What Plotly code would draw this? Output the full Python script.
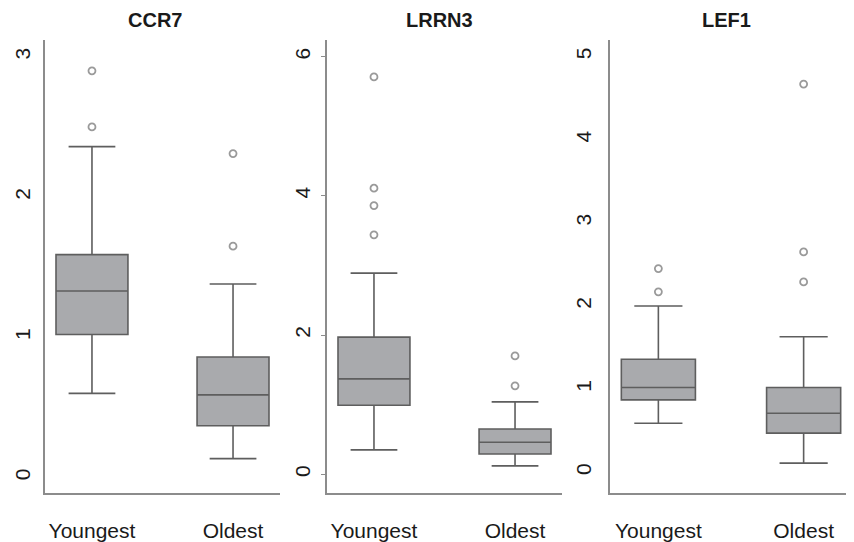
import plotly.graph_objects as go

genes = ["CCR7", "LRRN3", "LEF1"]
groups = ["Youngest", "Oldest"]

# Box statistics per gene: [Youngest, Oldest]
q1 = {"CCR7": [1.02, 0.37], "LRRN3": [0.99, 0.29], "LEF1": [0.87, 0.47]}
median = {"CCR7": [1.33, 0.59], "LRRN3": [1.37, 0.46], "LEF1": [1.02, 0.71]}
q3 = {"CCR7": [1.59, 0.86], "LRRN3": [1.97, 0.65], "LEF1": [1.36, 1.02]}
lowerfence = {"CCR7": [0.60, 0.135], "LRRN3": [0.35, 0.12], "LEF1": [0.59, 0.11]}
upperfence = {"CCR7": [2.36, 1.38], "LRRN3": [2.89, 1.04], "LEF1": [2.00, 1.63]}

# Outliers per gene and group
outliers = {
    "CCR7": {"Youngest": [2.9, 2.5], "Oldest": [1.65, 2.31]},
    "LRRN3": {"Youngest": [5.71, 4.11, 3.86, 3.44], "Oldest": [1.27, 1.70]},
    "LEF1": {"Youngest": [2.17, 2.45], "Oldest": [2.29, 2.65, 4.67]},
}

y_ranges = {"CCR7": [-0.11, 3.12], "LRRN3": [-0.27, 6.24], "LEF1": [-0.25, 5.2]}
y_ticks = {"CCR7": [0, 1, 2, 3], "LRRN3": [0, 2, 4, 6], "LEF1": [0, 1, 2, 3, 4, 5]}

# page has an 8px body margin; size the figure to fill the rest of the window
OFF = 8
W, H = 854 - OFF, 542 - OFF


def px_x(p):
    return (p - OFF) / W


def px_y(p):
    return 1 - (p - OFF) / H


x_domains = [[px_x(45), px_x(280)], [px_x(327), px_x(562)], [px_x(610), px_x(852)]]
y_domain = [px_y(493), px_y(40)]
title_x = [155, 440, 726]
tick_len = [0, 4, 0]
y_standoff = [5, 3, 9]

BOX_FILL = "#a9aaad"
BOX_LINE = "#5e5e5e"
AXIS_COL = "#8c8c8c"
FONT = "Liberation Sans, Arial, sans-serif"

fig = go.Figure()
layout = {}
annotations = []

for i, g in enumerate(genes):
    n = "" if i == 0 else str(i + 1)
    xa, ya = "x" + n, "y" + n
    fig.add_trace(go.Box(
        x=groups, q1=q1[g], median=median[g], q3=q3[g],
        lowerfence=lowerfence[g], upperfence=upperfence[g],
        fillcolor=BOX_FILL, line=dict(color=BOX_LINE, width=1.6),
        whiskerwidth=0.65, width=0.51, boxpoints=False,
        xaxis=xa, yaxis=ya, showlegend=False, hoverinfo="skip",
    ))
    ox, oy = [], []
    for grp in groups:
        for v in outliers[g][grp]:
            ox.append(grp)
            oy.append(v)
    fig.add_trace(go.Scatter(
        x=ox, y=oy, mode="markers",
        marker=dict(symbol="circle-open", size=7, color="#9a9a9a",
                    line=dict(width=1.8, color="#9a9a9a")),
        xaxis=xa, yaxis=ya, showlegend=False, hoverinfo="skip",
    ))
    layout["xaxis" + n] = dict(
        domain=x_domains[i], anchor=ya, type="category",
        categoryorder="array", categoryarray=groups,
        range=[-0.333, 1.333], showline=True, linecolor=AXIS_COL, linewidth=1.6,
        showgrid=False, zeroline=False, ticks="", ticklabelstandoff=18,
        tickfont=dict(size=21, color="#1a1a1a", family=FONT), fixedrange=True,
    )
    layout["yaxis" + n] = dict(
        domain=y_domain, anchor=xa, range=y_ranges[g],
        tickvals=y_ticks[g], ticktext=[str(t) for t in y_ticks[g]],
        tickangle=-90, showline=True, linecolor=AXIS_COL, linewidth=1.6,
        showgrid=False, zeroline=False,
        ticks="outside" if tick_len[i] else "", ticklen=tick_len[i] or 5,
        tickcolor=AXIS_COL, ticklabelstandoff=y_standoff[i],
        tickfont=dict(size=21, color="#1a1a1a", family=FONT), fixedrange=True,
    )
    annotations.append(dict(
        text="<b>" + g + "</b>", x=px_x(title_x[i]), y=px_y(20),
        xref="paper", yref="paper", showarrow=False,
        xanchor="center", yanchor="middle",
        font=dict(size=20, color="#1a1a1a", family=FONT),
    ))

fig.update_layout(
    width=W, height=H, margin=dict(l=0, r=0, t=0, b=0),
    paper_bgcolor="white", plot_bgcolor="white",
    annotations=annotations, **layout,
)

fig.write_html("out.html")
